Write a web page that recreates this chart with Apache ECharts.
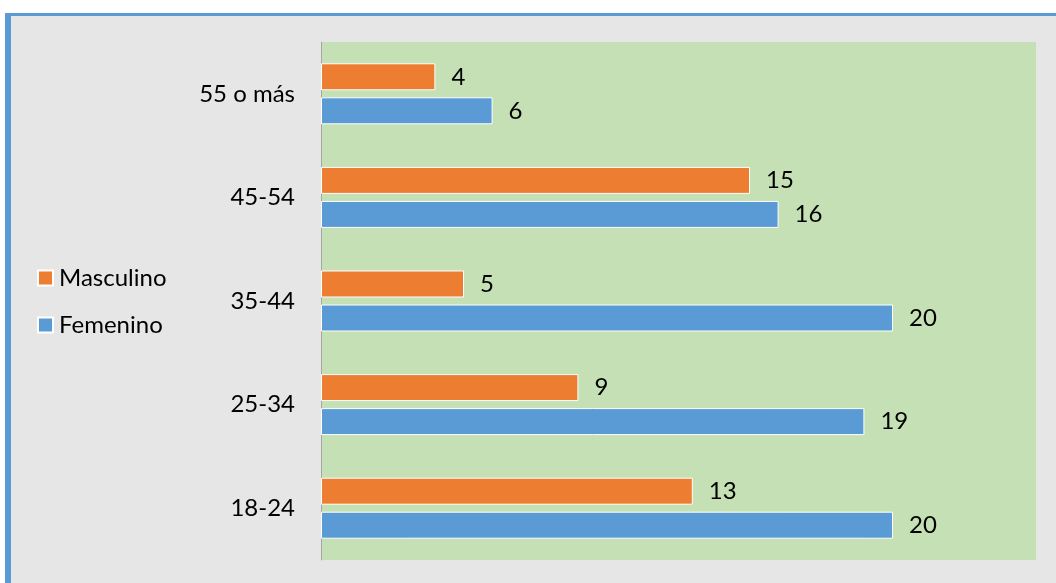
<!DOCTYPE html>
<html>
<head>
<meta charset="utf-8">
<script src="https://cdn.jsdelivr.net/npm/echarts@6/dist/echarts.min.js"></script>
<style>
  html, body { margin: 0; padding: 0; width: 1056px; height: 583px; background: #ffffff; overflow: hidden; }
  #frame { position: absolute; left: 5px; top: 13px; width: 1045px; height: 567px;
           border-left: 6px solid #5b9bd5; border-top: 3px solid #5b9bd5; background: #e6e6e6; }
  #chart { position: absolute; left: 0; top: 0; width: 1056px; height: 583px; }
</style>
</head>
<body>
<div id="frame"></div>
<div id="chart"></div>
<script>
const categories = ['18-24', '25-34', '35-44', '45-54', '55 o más'];
const masculino = [13, 9, 5, 15, 4];
const femenino = [20, 19, 20, 16, 6];
const seriesNames = ['Masculino', 'Femenino'];

const FONT = 'Lato';
const chart = echarts.init(document.getElementById('chart'), null, { renderer: 'canvas' });
const labelStyle = { show: true, position: 'right', distance: 16, color: '#000', fontFamily: FONT, fontSize: 24 };
chart.setOption({
  backgroundColor: 'transparent',
  animation: false,
  textStyle: { fontFamily: FONT },
  legend: {
    data: seriesNames,
    orient: 'vertical',
    left: 32,
    top: 261,
    itemWidth: 15,
    itemHeight: 15,
    itemGap: 23,
    icon: 'rect',
    textStyle: { fontFamily: FONT, fontSize: 24, color: '#000', padding: [0, 0, 0, 1] }
  },
  grid: {
    left: 321, top: 42, right: 20, bottom: 23,
    show: true, backgroundColor: '#c5e0b4', borderWidth: 0
  },
  xAxis: {
    type: 'value', min: 0, max: 25,
    axisLine: { show: false }, axisTick: { show: false },
    axisLabel: { show: false }, splitLine: { show: false }
  },
  yAxis: {
    type: 'category', data: categories,
    axisLine: { show: true, lineStyle: { color: '#a6a6a6', width: 1 } },
    axisTick: { show: false },
    axisLabel: { margin: 26, color: '#000', fontFamily: FONT, fontSize: 24 }
  },
  series: [
    {
      name: seriesNames[0], type: 'bar', data: masculino,
      barWidth: 27, barGap: '26%',
      itemStyle: { color: '#ed7d31', borderColor: '#ffffff', borderWidth: 1 },
      label: labelStyle
    },
    {
      name: seriesNames[1], type: 'bar', data: femenino,
      barWidth: 27, barGap: '26%',
      itemStyle: { color: '#5b9bd5', borderColor: '#ffffff', borderWidth: 1 },
      label: labelStyle
    }
  ]
});
</script>
</body>
</html>
